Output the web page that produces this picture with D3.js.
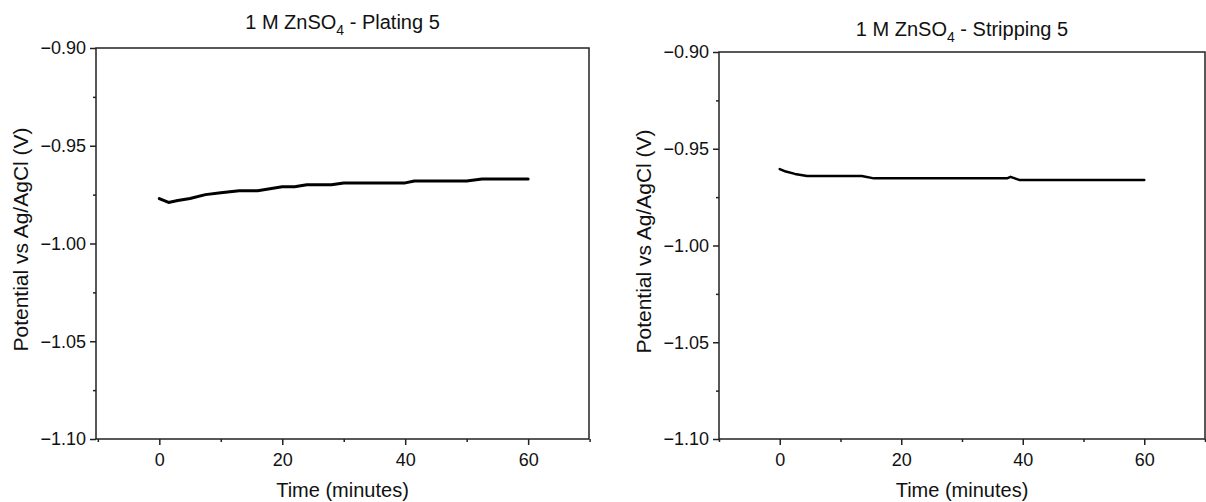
<!DOCTYPE html>
<html>
<head>
<meta charset="utf-8">
<script src="https://cdn.jsdelivr.net/npm/d3@7"></script>
<style>
  body { margin: 0; background: #fff; }
  svg { display: block; font-family: "Liberation Sans", Arial, sans-serif; }
</style>
</head>
<body>
<script>
// plating 5 (minutes, V vs Ag/AgCl)
var platingTime = [0, 1.5, 3, 5, 7.5, 10, 13, 16, 18, 20, 22, 24, 28, 30, 40, 41.5, 50, 52.5, 60];
var platingV = [-0.977, -0.979, -0.978, -0.977, -0.975, -0.974, -0.973, -0.973, -0.972, -0.971, -0.971, -0.970, -0.970, -0.969, -0.969, -0.968, -0.968, -0.967, -0.967];

// stripping 5
var strippingTime = [0, 1, 2.5, 4.5, 5, 13.5, 15.5, 37.5, 38, 39.5, 60];
var strippingV = [-0.9605, -0.9618, -0.9630, -0.9641, -0.9641, -0.9641, -0.9653, -0.9652, -0.9645, -0.9662, -0.9662];

var xTicks = [0, 20, 40, 60];
var xMinor = [-10, 10, 30, 50, 70];
var yTicks = [-0.90, -0.95, -1.00, -1.05, -1.10];
var yMinor = [-0.925, -0.975, -1.025, -1.075];

var svg = d3.select('body').append('svg')
    .attr('width', 1206)
    .attr('height', 502);

var panels = [
    { name: 'Plating 5', t: platingTime, v: platingV, left: 96, right: 589, top: 48, bottom: 439, xdom: [-10.3, 69.9], lw: 3, titleY: 29 },
    { name: 'Stripping 5', t: strippingTime, v: strippingV, left: 719, right: 1205, top: 52, bottom: 439, xdom: [-10, 70], lw: 2.5, titleY: 36 }
];

panels.forEach(function (p) {
    var x = d3.scaleLinear().domain(p.xdom).range([p.left, p.right]);
    var y = d3.scaleLinear().domain([-1.10, -0.90]).range([p.bottom, p.top]);
    var g = svg.append('g');

    // frame
    g.append('rect')
        .attr('x', p.left).attr('y', p.top)
        .attr('width', p.right - p.left).attr('height', p.bottom - p.top)
        .attr('fill', 'none').attr('stroke', '#222').attr('stroke-width', 1.5);

    // axes
    var xAxis = d3.axisBottom(x).tickValues(xTicks).tickFormat(d3.format('d')).tickSize(6).tickPadding(8);
    g.append('g').attr('transform', 'translate(0,' + p.bottom + ')').call(xAxis);
    g.append('g').attr('transform', 'translate(0,' + p.bottom + ')')
        .call(d3.axisBottom(x).tickValues(xMinor).tickFormat('').tickSize(3));

    var yAxis = d3.axisLeft(y).tickValues(yTicks).tickFormat(d3.format('.2f')).tickSize(6).tickPadding(4);
    g.append('g').attr('transform', 'translate(' + p.left + ',0)').call(yAxis);
    g.append('g').attr('transform', 'translate(' + p.left + ',0)')
        .call(d3.axisLeft(y).tickValues(yMinor).tickFormat('').tickSize(3));

    g.selectAll('.domain').remove();
    g.selectAll('.tick line').attr('stroke', '#222').attr('stroke-width', 1.5);
    g.selectAll('.tick text').attr('fill', '#111').style('font-size', '18px');

    // data line
    var pts = p.t.map(function (d, i) { return [d, p.v[i]]; });
    g.append('path')
        .datum(pts)
        .attr('fill', 'none')
        .attr('stroke', '#000')
        .attr('stroke-width', p.lw)
        .attr('stroke-linejoin', 'round')
        .attr('stroke-linecap', 'round')
        .attr('d', d3.line().x(function (d) { return x(d[0]); }).y(function (d) { return y(d[1]); }));

    var cx = (p.left + p.right) / 2;

    // title with subscript
    var title = g.append('text')
        .attr('x', cx).attr('y', p.titleY)
        .attr('text-anchor', 'middle')
        .style('font-size', '20px').attr('fill', '#111');
    title.append('tspan').text('1 M ZnSO');
    title.append('tspan').attr('dy', 6).style('font-size', '14px').text('4');
    title.append('tspan').attr('dy', -6).text(' - ' + p.name);

    g.append('text')
        .attr('x', cx).attr('y', 497)
        .attr('text-anchor', 'middle')
        .style('font-size', '20px').attr('fill', '#111')
        .text('Time (minutes)');

    g.append('text')
        .attr('transform', 'translate(' + (p.left - 68) + ',' + ((p.top + p.bottom) / 2 - 4) + ') rotate(-90)')
        .attr('text-anchor', 'middle')
        .style('font-size', '21px').attr('fill', '#111')
        .text('Potential vs Ag/AgCl (V)');
});
</script>
</body>
</html>
